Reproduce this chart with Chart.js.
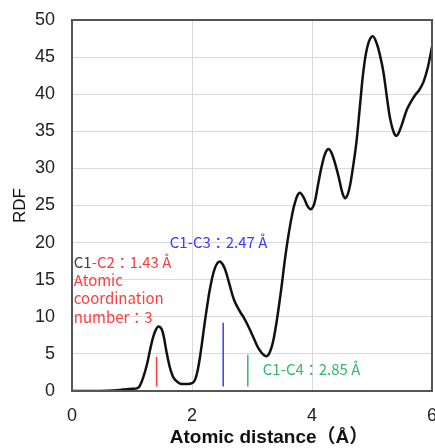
<!DOCTYPE html>
<html>
<head>
<meta charset="utf-8">
<script src="https://cdn.jsdelivr.net/npm/chart.js@4"></script>
<style>
  html, body { margin: 0; padding: 0; background: #fff; }
  #wrap { width: 435px; height: 448px; }
</style>
</head>
<body>
<div id="wrap"><canvas id="rdf"></canvas></div>
<script>
// ---- RDF curve ----
const distance = [0, 0.3, 0.6, 0.8, 0.9, 1.0, 1.08, 1.13, 1.19, 1.25, 1.3, 1.35, 1.4, 1.44, 1.49, 1.53, 1.57, 1.63, 1.68, 1.72, 1.8, 1.9, 2.0, 2.05, 2.1, 2.15, 2.2, 2.25, 2.3, 2.36, 2.42, 2.48, 2.55, 2.62, 2.7, 2.8, 2.87, 2.94, 3.03, 3.12, 3.23, 3.3, 3.37, 3.47, 3.55, 3.6, 3.66, 3.72, 3.79, 3.86, 3.92, 3.98, 4.04, 4.1, 4.17, 4.23, 4.28, 4.34, 4.44, 4.51, 4.56, 4.62, 4.68, 4.74, 4.8, 4.86, 4.93, 5.01, 5.08, 5.14, 5.19, 5.25, 5.3, 5.36, 5.41, 5.48, 5.58, 5.65, 5.72, 5.79, 5.86, 5.93, 6.0];
const rdf = [0, 0, 0.05, 0.15, 0.25, 0.3, 0.35, 0.7, 1.9, 3.6, 5.5, 7.2, 8.3, 8.7, 8.4, 7.3, 5.5, 3.2, 2.0, 1.5, 1.0, 0.95, 1.05, 1.5, 3.0, 5.5, 8.5, 11.3, 13.8, 16.0, 17.2, 17.4, 16.4, 14.5, 12.3, 10.7, 9.8, 8.7, 7.1, 5.6, 4.7, 5.3, 7.4, 12.7, 17.8, 20.6, 23.4, 25.5, 26.7, 26.1, 25.0, 24.5, 25.3, 27.8, 30.6, 32.2, 32.6, 31.8, 29.0, 26.6, 26.0, 27.2, 30.0, 33.5, 38.5, 43.3, 46.6, 47.8, 46.8, 45.0, 43.0, 39.5, 36.8, 34.9, 34.4, 35.5, 37.9, 39.0, 39.9, 40.6, 41.7, 43.6, 46.4];

// ---- marker bars (x, bottom, top) ----
const markerX = [1.41, 2.52, 2.93];
const markerTop = [4.6, 9.2, 4.9];
const markerBottom = [0.6, 0.6, 0.6];
const markerColors = ['#ff3b3b', '#3b3bff', '#33b86b'];

// ---- axes ----
const xTicks = [0, 2, 4, 6];
const yMax = 50;
const yStep = 5;
const xTitle = 'Atomic distance（Å）';

const curve = distance.map((d, i) => ({ x: d, y: rdf[i] }));

const markerSets = markerX.map((mx, i) => ({
    data: [{ x: mx, y: markerBottom[i] }, { x: mx, y: markerTop[i] }],
    borderColor: markerColors[i],
    borderWidth: 1.5,
    pointRadius: 0,
    tension: 0
}));

// ---- labels drawn on the plot ----
const labelFont = '15px "Noto Sans CJK JP", "Noto Sans", sans-serif';
const notes = [
    { x: 0.03, y: 17.4, parts: [['C1', '#404040'], ['-C2：1.43 Å', '#ff3b3b']] },
    { x: 0.03, y: 14.9, parts: [['Atomic', '#ff3b3b']] },
    { x: 0.03, y: 12.45, parts: [['coordination', '#ff3b3b']] },
    { x: 0.03, y: 10.0, parts: [['number：3', '#ff3b3b']] },
    { x: 1.63, y: 20.0, parts: [['C1-C3：2.47 Å', '#3b3bff']] },
    { x: 3.18, y: 2.9, parts: [['C1-C4：2.85 Å', '#33b86b']] }
];

const notesPlugin = {
    id: 'notes',
    afterDatasetsDraw(chart) {
        const ctx = chart.ctx;
        const xs = chart.scales.x, ys = chart.scales.y;
        ctx.save();
        ctx.font = labelFont;
        ctx.textBaseline = 'middle';
        ctx.textAlign = 'left';
        notes.forEach(n => {
            let px = xs.getPixelForValue(n.x);
            const py = ys.getPixelForValue(n.y);
            n.parts.forEach(([t, c]) => {
                ctx.fillStyle = c;
                ctx.fillText(t, px, py);
                px += ctx.measureText(t).width;
            });
        });
        ctx.restore();
    },
    afterDraw(chart) {
        const a = chart.chartArea, ctx = chart.ctx;
        ctx.save();
        ctx.strokeStyle = '#555';
        ctx.lineWidth = 2;
        ctx.strokeRect(a.left, a.top, a.right - a.left, a.bottom - a.top);
        // x title sits a little right of centre in the original
        ctx.font = 'bold 19px "Liberation Sans", "Noto Sans CJK JP"';
        ctx.fillStyle = '#111';
        ctx.textAlign = 'center';
        ctx.textBaseline = 'middle';
        ctx.fillText(xTitle, (a.left + a.right) / 2 + 17, chart.height - 10);
        ctx.restore();
    }
};

new Chart(document.getElementById('rdf'), {
    type: 'line',
    data: {
        datasets: [{
            data: curve,
            borderColor: '#111',
            borderWidth: 2.5,
            pointRadius: 0,
            tension: 0.4
        }, ...markerSets]
    },
    options: {
        responsive: true,
        maintainAspectRatio: false,
        animation: false,
        layout: { padding: { top: 20, right: 3, left: 0, bottom: 0 } },
        plugins: { legend: { display: false }, tooltip: { enabled: false } },
        scales: {
            x: {
                type: 'linear',
                min: 0,
                max: 6,
                afterBuildTicks: s => { s.ticks = xTicks.map(v => ({ value: v })); },
                afterFit: s => { s.height = 57; s.paddingLeft = 0; s.paddingRight = 0; },
                grid: { color: '#d9d9d9', lineWidth: 1, drawTicks: false },
                border: { display: false },
                ticks: { color: '#222', padding: 14, maxRotation: 0, font: { family: 'Liberation Sans', size: 18 } }
            },
            y: {
                min: 0,
                max: yMax,
                afterFit: s => { s.width = 72; s.paddingTop = 0; s.paddingBottom = 0; },
                grid: { color: '#d9d9d9', lineWidth: 1, drawTicks: false },
                border: { display: false },
                ticks: { stepSize: yStep, color: '#222', padding: 17, font: { family: 'Liberation Sans', size: 18 } },
                title: {
                    display: true,
                    text: 'RDF',
                    color: '#111',
                    padding: { top: 10, bottom: 0 },
                    font: { family: 'Liberation Sans', size: 17 }
                }
            }
        }
    },
    plugins: [notesPlugin]
});
</script>
</body>
</html>
